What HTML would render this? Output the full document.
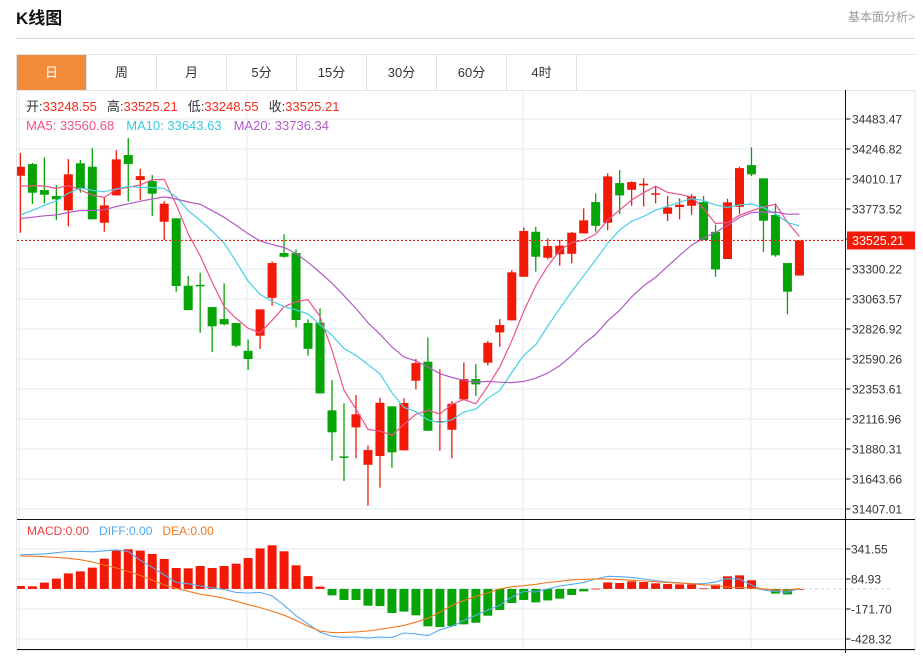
<!DOCTYPE html>
<html><head><meta charset="utf-8">
<style>
html,body{margin:0;padding:0;background:#fff;}
body{width:923px;height:653px;overflow:hidden;position:relative;font-family:"Liberation Sans","Noto Sans CJK SC",sans-serif;}
svg text{font-family:"Liberation Sans","Noto Sans CJK SC",sans-serif;}
</style></head>
<body>
<svg id="chart" width="923" height="653" viewBox="0 0 923 653" xmlns="http://www.w3.org/2000/svg">
  <defs><clipPath id="plotclip"><rect x="17" y="91" width="828.5" height="560"/></clipPath></defs>
  <text x="16" y="24" font-size="17" font-weight="bold" fill="#111">K线图</text>
  <text x="848" y="21" font-size="12" fill="#999">基本面分析&gt;</text>
  <line x1="16" y1="38.5" x2="915" y2="38.5" stroke="#d4d4d4"/>
  <g id="tabs"></g>
  <rect x="16.5" y="90.5" width="898.5" height="560" fill="none" stroke="#e2e6ea"/>
  <g id="grid"></g>
  <g id="macdg" clip-path="url(#plotclip)"></g>
  <g id="candles" clip-path="url(#plotclip)"></g>
  <g id="mas" clip-path="url(#plotclip)"></g>
  <g id="axis"></g>
  <g>
    <text x="26" y="111" font-size="13"><tspan fill="#333">开:</tspan><tspan fill="#f52a1a">33248.55</tspan><tspan fill="#333" dx="10">高:</tspan><tspan fill="#f52a1a">33525.21</tspan><tspan fill="#333" dx="10">低:</tspan><tspan fill="#f52a1a">33248.55</tspan><tspan fill="#333" dx="10">收:</tspan><tspan fill="#f52a1a">33525.21</tspan></text>
    <text x="26" y="130" font-size="13"><tspan fill="#f0508c">MA5: 33560.68</tspan><tspan fill="#3cc8e0" dx="12">MA10: 33643.63</tspan><tspan fill="#b45ac8" dx="12">MA20: 33736.34</tspan></text>
  </g>
  <text x="27" y="535" font-size="12"><tspan fill="#f03c3c">MACD:0.00</tspan><tspan fill="#4ea8ee" dx="10">DIFF:0.00</tspan><tspan fill="#f07a1e" dx="10">DEA:0.00</tspan></text>
</svg>
<script>
const priorCloses=[33700,33650,33720,33680,33600,33700,33680,33650,33700,33620,33550,33480,33500,33450,33520,33880,33900,33950,33930];
const opens=[34036,34128,33923,33876,33763,34134,34107,33665,33881,34199,34002,33994,33673,33700,33168,33175,33000,32905,32874,32655,32774,33073,33426,33426,32874,32876,32185,31822,32051,31756,31825,32217,31870,32419,32569,32095,32032,32272,32432,32561,32800,32895,33239,33594,33389,33416,33420,33581,33828,33665,33978,33925,33960,33886,33736,33789,33799,33828,33594,33379,33791,34120,34015,33726,33347,33248.55];
const closes=[34107,33902,33886,33850,34047,33936,33692,33802,34165,34128,34033,33894,33815,33166,32976,33168,32848,32864,32695,32590,32982,33347,33397,32898,32671,32319,32012,31819,32154,31872,32245,31854,32243,32558,32024,32101,32237,32432,32390,32718,32858,33274,33600,33397,33481,33484,33586,33684,33641,34031,33881,33986,33973,33897,33786,33807,33873,33529,33297,33826,34096,34047,33681,33408,33121,33525.21];
const lows=[33586,33813,33818,33686,33637,33902,33692,33594,33881,33831,33844,33718,33529,33121,32976,32797,32645,32856,32682,32503,32669,33010,33389,32840,32616,32319,31788,31628,31807,31433,31575,31733,31870,32351,32024,31867,31807,32272,32298,32540,32687,32895,33239,33279,33376,33326,33345,33581,33594,33607,33734,33799,33794,33818,33678,33692,33728,33529,33239,33379,33734,34033,33436,33397,32942,33248.55];
const highs=[34215,34138,34181,33962,34167,34160,34254,33870,34238,34333,34091,34041,33836,33700,33245,33271,33000,33187,32874,32745,32982,33361,33574,33455,32903,32990,32424,32240,32306,31909,32285,32217,32280,32590,32761,32509,32259,32564,32550,32732,32905,33292,33629,33633,33542,33529,33592,33779,33897,34055,34081,33992,34015,33954,33876,33857,33891,33876,33647,33854,34107,34260,34015,33818,33347,33525.21];
const macdVals=[25,22,54,88,133,150,182,259,330,339,328,299,256,179,176,196,179,196,216,264,347,373,322,202,110,20,-55,-95,-95,-143,-146,-206,-194,-226,-320,-326,-318,-303,-289,-229,-180,-121,-95,-115,-98,-83,-52,-21,3,56,51,65,59,48,42,39,39,5,37,108,116,74,0,-40,-47,0];
const diffVals=[293,295,300,310,320,322,318,326,333,320,245,185,120,55,45,25,10,-5,-30,-35,-30,-60,-140,-230,-300,-369,-405,-415,-410,-420,-412,-415,-377,-385,-400,-350,-320,-270,-226,-180,-140,-70,-21,-25,0,25,40,56,85,108,105,99,85,70,58,52,45,45,60,88,85,33,-10,-23,-28,3];
const deaVals=[282,280,276,270,262,250,230,205,180,150,115,75,35,5,-20,-45,-60,-80,-105,-135,-160,-190,-225,-270,-320,-360,-374,-372,-368,-360,-345,-330,-312,-285,-250,-200,-140,-100,-65,-35,0,18,28,40,55,65,78,82,84,84,80,74,68,62,55,50,45,35,30,15,12,8,0,-8,-10,3];
const priceTicks=["34483.47","34246.82","34010.17","33773.52","33536.87","33300.22","33063.57","32826.92","32590.26","32353.61","32116.96","31880.31","31643.66","31407.01"];
const macdTicks=["341.55","84.93","-171.70","-428.32"];
const tabLabels=["日","周","月","5分","15分","30分","60分","4时"];
const lastPrice=33525.21;

const NS="http://www.w3.org/2000/svg";
function mk(tag,attrs,parent){const e=document.createElementNS(NS,tag);for(const k in attrs)e.setAttribute(k,attrs[k]);parent.appendChild(e);return e;}
const X0=20.4, STEP=11.985, LEFT=17, RIGHT=845.5;
const pTop=parseFloat(priceTicks[0]), pBot=parseFloat(priceTicks[priceTicks.length-1]);
function xS(i){return X0+i*STEP;}
function yS(p){return 119+(pTop-p)/(pTop-pBot)*390;}
const mTop=parseFloat(macdTicks[0]), mBot=parseFloat(macdTicks[macdTicks.length-1]);
function yM(v){return 549+(mTop-v)/(mTop-mBot)*90;}

const tabs=document.getElementById('tabs');
tabLabels.forEach((t,i)=>{
  const r=mk('rect',{x:16.5+i*70,y:54.5,width:70,height:36,fill:i===0?'#f08c3c':'#fff',stroke:'#dde1e5'},tabs);
  
  
  const tx=mk('text',{x:51.5+i*70,y:77,'font-size':13,'text-anchor':'middle',fill:i===0?'#fff':'#333'},tabs);
  tx.textContent=t;
  
  
});
mk('line',{x1:576,y1:54.5,x2:915,y2:54.5,stroke:'#dde1e5'},tabs);

const grid=document.getElementById('grid');
priceTicks.forEach((t,k)=>{
  const y=yS(parseFloat(t));
  const l=mk('line',{x1:LEFT,y1:y,x2:RIGHT,y2:y,stroke:'#e6ebf0'},grid);
  
  
});
[19,247,523,751].forEach(x=>{
  const l=mk('line',{x1:x,y1:90,x2:x,y2:650,stroke:'#e6ebf0'},grid);
  
  
});
macdTicks.forEach(t=>{
  const y=yM(parseFloat(t));
  const l=mk('line',{x1:LEFT,y1:y,x2:RIGHT,y2:y,stroke:'#e6ebf0'},grid);
  
  
});

const cg=document.getElementById('candles');
const RED='#f21a06', GREEN='#06a406';
for(let i=0;i<closes.length;i++){
  const up=closes[i]>=opens[i];
  const col=up?RED:GREEN;
  const x=xS(i);
  const w=mk('line',{x1:x,y1:yS(highs[i]),x2:x,y2:yS(lows[i]),stroke:col,'stroke-width':1.3},cg);
  
  
  const yt=yS(Math.max(opens[i],closes[i])), yb=yS(Math.min(opens[i],closes[i]));
  const b=mk('rect',{x:x-4.5,y:yt,width:9,height:Math.max(1.5,yb-yt),fill:col},cg);
  
  
}
const full=priorCloses.concat(closes);
function ma(n){const out=[];for(let i=0;i<closes.length;i++){let s=0;const e=priorCloses.length+i;for(let j=e-n+1;j<=e;j++)s+=full[j];out.push(s/n);}return out;}
const mg=document.getElementById('mas');
[[5,'#f0508c'],[10,'#46d0e6'],[20,'#b45ac8']].forEach(([n,c])=>{
  const v=ma(n);
  const p=mk('polyline',{points:v.map((m,i)=>xS(i).toFixed(1)+','+yS(m).toFixed(1)).join(' '),fill:'none',stroke:c,'stroke-width':1.2},mg);
  
  
});
const lp=mk('line',{x1:LEFT,y1:yS(lastPrice),x2:RIGHT,y2:yS(lastPrice),stroke:'#f21a06','stroke-dasharray':'2,2'},mg);



const mdg=document.getElementById('macdg');
const z=yM(0);
const zl=mk('line',{x1:LEFT,y1:z,x2:890,y2:z,stroke:'#b8dcec','stroke-dasharray':'3,3'},document.getElementById('grid'));


macdVals.forEach((v,i)=>{
  const y=yM(v);
  const r=mk('rect',{x:xS(i)-4.5,y:Math.min(y,z),width:9,height:Math.max(0.8,Math.abs(y-z)),fill:v>=0?RED:GREEN},mdg);
  
  
});
const dl=mk('polyline',{points:diffVals.map((v,i)=>xS(i).toFixed(1)+','+yM(v).toFixed(1)).join(' '),fill:'none',stroke:'#5aaaf0','stroke-width':1.1},mdg);


const el=mk('polyline',{points:deaVals.map((v,i)=>xS(i).toFixed(1)+','+yM(v).toFixed(1)).join(' '),fill:'none',stroke:'#f5781e','stroke-width':1.1},mdg);



const ax=document.getElementById('axis');
mk('line',{x1:17,y1:519.5,x2:915,y2:519.5,stroke:'#111'},ax);
mk('line',{x1:17,y1:649.5,x2:915,y2:649.5,stroke:'#111'},ax);
mk('line',{x1:RIGHT,y1:90,x2:RIGHT,y2:653,stroke:'#111'},ax);
priceTicks.forEach(t=>{
  const y=yS(parseFloat(t));
  mk('line',{x1:RIGHT,y1:y,x2:RIGHT+5,y2:y,stroke:'#111'},ax);
  const tx=mk('text',{x:852,y:y+4.5,'font-size':12,fill:'#333'},ax);
  tx.textContent=t;
  
  
});
macdTicks.forEach(t=>{
  const y=yM(parseFloat(t));
  mk('line',{x1:RIGHT,y1:y,x2:RIGHT+5,y2:y,stroke:'#111'},ax);
  const tx=mk('text',{x:851,y:y+4.5,'font-size':12,fill:'#333'},ax);
  tx.textContent=t;
  
  
});
const ly=yS(lastPrice);
const lr=mk('rect',{x:847,y:ly-9,width:68,height:18,fill:'#f21a06'},ax);


const lt=mk('text',{x:852,y:ly+4.5,'font-size':12.5,fill:'#fff'},ax);
lt.textContent=lastPrice.toFixed(2);


</script>
</body></html>
